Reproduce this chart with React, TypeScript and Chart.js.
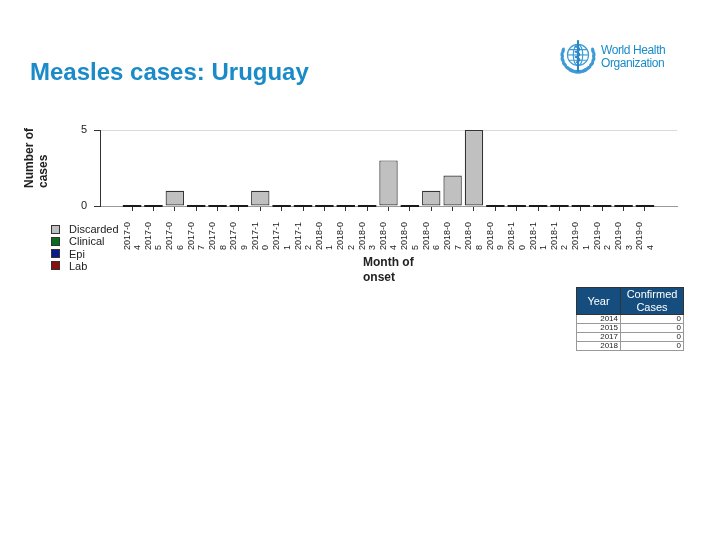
import React, { useEffect, useRef } from 'react';
import { Chart, registerables } from 'chart.js';

Chart.register(...registerables);

// ---- data ----
const months = [
  '2017-04', '2017-05', '2017-06', '2017-07', '2017-08', '2017-09', '2017-10', '2017-11', '2017-12',
  '2018-01', '2018-02', '2018-03', '2018-04', '2018-05', '2018-06', '2018-07', '2018-08', '2018-09',
  '2018-10', '2018-11', '2018-12', '2019-01', '2019-02', '2019-03', '2019-04',
];
const discarded = [0, 0, 1, 0, 0, 0, 1, 0, 0, 0, 0, 0, 3, 0, 1, 2, 5, 0, 0, 0, 0, 0, 0, 0, 0];
const clinical = [0, 0, 0, 0, 0, 0, 0, 0, 0, 0, 0, 0, 0, 0, 0, 0, 0, 0, 0, 0, 0, 0, 0, 0, 0];
const epi = [0, 0, 0, 0, 0, 0, 0, 0, 0, 0, 0, 0, 0, 0, 0, 0, 0, 0, 0, 0, 0, 0, 0, 0, 0];
const lab = [0, 0, 0, 0, 0, 0, 0, 0, 0, 0, 0, 0, 0, 0, 0, 0, 0, 0, 0, 0, 0, 0, 0, 0, 0];
const yTicks = [0, 5];
const seriesNames = ['Discarded', 'Clinical', 'Epi', 'Lab'];
const seriesColors = ['#c0c0c0', '#0b6b1f', '#0a1a8c', '#8a0f0f'];
const xTitleLines = ['Month of', 'onset'];
const yTitleLines = ['Number of', 'cases'];
const tableYears = ['2014', '2015', '2017', '2018'];
const tableConfirmed = [0, 0, 0, 0];

const FONT = '"Liberation Sans", Arial, sans-serif';
const TEXT = '#222';

const pad = (arr: (number | null)[]) => [null, ...arr, null];
const chartLabels = ['', ...months, ''];

const customDraw = {
  id: 'customDraw',
  afterDatasetsDraw(chart: any) {
    const ctx = chart.ctx;
    const ys = chart.scales.y;
    const y0 = ys.getPixelForValue(0);
    const meta = chart.getDatasetMeta(0);
    const ds = chart.data.datasets;
    meta.data.forEach((el: any, i: number) => {
      if (ds[0].data[i] == null) return;
      const total = ds.reduce((s: number, d: any) => s + ((d.data[i] as number) || 0), 0);
      if (total === 0) {
        ctx.save();
        ctx.fillStyle = '#1a1a1a';
        ctx.fillRect(el.x - el.width / 2, y0 - 1, el.width, 2);
        ctx.restore();
      }
    });
  },
  afterDraw(chart: any) {
    const ctx = chart.ctx;
    const xs = chart.scales.x;
    ctx.save();
    ctx.fillStyle = TEXT;
    ctx.textAlign = 'left';
    ctx.textBaseline = 'middle';
    ctx.font = `9px ${FONT}`;
    months.forEach((m, i) => {
      const x = xs.getPixelForValue(i + 1);
      const parts = [m.slice(0, 6), m.slice(6)];
      parts.forEach((p, j) => {
        ctx.save();
        ctx.translate(x + (j === 0 ? -5 : 5.5), 250);
        ctx.rotate(-Math.PI / 2);
        ctx.fillText(p, 0, 0);
        ctx.restore();
      });
    });
    // axis titles
    ctx.font = `bold 12px ${FONT}`;
    xTitleLines.forEach((t, j) => {
      ctx.fillText(t, 363, 263 + j * 15);
    });
    yTitleLines.forEach((t, j) => {
      ctx.save();
      ctx.translate(30 + j * 14, 188);
      ctx.rotate(-Math.PI / 2);
      ctx.fillText(t, 0, 0);
      ctx.restore();
    });
    ctx.restore();
  },
};

function WhoLogo() {
  const leaves = [];
  for (let k = 0; k < 9; k++) {
    const a = (200 - k * 17) * Math.PI / 180;
    const r = 15;
    for (const side of [-1, 1]) {
      const cx = 18 + side * Math.cos(a) * r * -1;
      const cy = 18 - Math.sin(a) * r * -1;
      leaves.push(
        <ellipse key={`${k}-${side}`} cx={cx} cy={cy} rx={1.6} ry={3}
          transform={`rotate(${side * (k * 17 - 10)} ${cx} ${cy})`} fill="#3d9ad6" />
      );
    }
  }
  return (
    <svg width="38" height="38" viewBox="0 0 36 36" style={{ position: 'absolute', left: 559, top: 37 }}>
      {leaves}
      <g fill="none" stroke="#3d9ad6" strokeWidth="1.1">
        <circle cx="18" cy="17" r="10" />
        <ellipse cx="18" cy="17" rx="4.5" ry="10" />
        <line x1="8" y1="17" x2="28" y2="17" />
        <path d="M9.5 12 H26.5 M9.5 22 H26.5" />
      </g>
      <line x1="18" y1="3" x2="18" y2="33" stroke="#2a86c8" strokeWidth="2" />
      <path d="M15 9 C21 10 21 13 15 14 C21 15 21 18 15 19 C21 20 21 23 16 24" fill="none" stroke="#2a86c8" strokeWidth="1.4" />
    </svg>
  );
}

export default function App() {
  const ref = useRef<HTMLCanvasElement | null>(null);

  useEffect(() => {
    if (!ref.current) return;
    const datasets = [discarded, clinical, epi, lab].map((d, i) => ({
      label: seriesNames[i],
      data: pad(d),
      backgroundColor: seriesColors[i],
      borderColor: '#333',
      borderWidth: 1.2,
      borderSkipped: false as const,
      categoryPercentage: 1,
      barPercentage: 0.86,
    }));
    const chart = new Chart(ref.current, {
      type: 'bar',
      data: { labels: chartLabels, datasets },
      options: {
        animation: false,
        responsive: false,
        maintainAspectRatio: false,
        layout: { padding: { left: 0, top: 130, right: 43, bottom: 324 } },
        plugins: { legend: { display: false }, tooltip: { enabled: false }, title: { display: false } },
        scales: {
          x: {
            stacked: true,
            offset: true,
            grid: {
              offset: false,
              drawOnChartArea: false,
              drawTicks: true,
              tickLength: 5,
              tickColor: (c: any) => (c.index === 0 || c.index === chartLabels.length - 1 ? 'rgba(0,0,0,0)' : '#333'),
            },
            border: { display: true, color: '#9a9a9a', width: 1 },
            ticks: { display: false },
            afterFit: (s: any) => { s.height = 10; s.paddingLeft = 0; s.paddingRight = 0; },
          },
          y: {
            stacked: true,
            min: 0,
            max: 5,
            afterBuildTicks: (s: any) => { s.ticks = yTicks.map((v) => ({ value: v })); },
            ticks: { font: { family: FONT, size: 11 }, color: TEXT, padding: 7 },
            grid: {
              color: (c: any) => (c.tick && c.tick.value === 0 ? 'rgba(0,0,0,0)' : '#d9d9d9'),
              tickColor: '#333',
              tickLength: 6,
            },
            border: { color: '#333', width: 1 },
            afterFit: (s: any) => { s.width = 100; s.paddingTop = 0; s.paddingBottom = 0; },
          },
        },
      },
      plugins: [customDraw],
    });
    return () => chart.destroy();
  }, []);

  const cellBorder = '1px solid #999';

  return (
    <div style={{ position: 'fixed', left: 0, top: 0, width: 720, height: 540, background: '#fff', fontFamily: FONT }}>
      <canvas ref={ref} width={720} height={540} style={{ position: 'absolute', left: 0, top: 0, width: 720, height: 540 }} />
      <div style={{ position: 'absolute', left: 30, top: 60, fontSize: 24, lineHeight: '24px', fontWeight: 'bold', color: '#1a8bc8', whiteSpace: 'nowrap' }}>
        Measles cases: Uruguay
      </div>
      <WhoLogo />
      <div style={{ position: 'absolute', left: 601, top: 44, fontSize: 12, lineHeight: '13px', color: '#1a8bc8', letterSpacing: '-0.4px', whiteSpace: 'nowrap' }}>
        World Health<br />Organization
      </div>
      {seriesNames.map((n, i) => (
        <div key={n} style={{ position: 'absolute', left: 51, top: 223 + i * 12.3, height: 12, display: 'flex', alignItems: 'center' }}>
          <div style={{ width: 7, height: 7, background: seriesColors[i], border: '1px solid #333' }} />
          <div style={{ marginLeft: 9, fontSize: 11, lineHeight: '12px', color: TEXT }}>{n}</div>
        </div>
      ))}
      <table style={{ position: 'absolute', left: 576, top: 287, width: 108, borderCollapse: 'collapse', fontFamily: FONT }}>
        <thead>
          <tr>
            <th style={{ width: 43, height: 24, padding: 0, background: '#154e7e', color: '#fff', fontSize: 11, fontWeight: 'normal', border: '1px solid #333' }}>Year</th>
            <th style={{ height: 24, padding: 0, background: '#154e7e', color: '#fff', fontSize: 11, lineHeight: '13px', fontWeight: 'normal', border: '1px solid #333' }}>Confirmed<br />Cases</th>
          </tr>
        </thead>
        <tbody>
          {tableYears.map((y, i) => (
            <tr key={y}>
              <td style={{ height: 8, padding: '0 2px', fontSize: 8, lineHeight: '8px', textAlign: 'right', border: cellBorder, color: TEXT }}>{y}</td>
              <td style={{ height: 8, padding: '0 2px', fontSize: 8, lineHeight: '8px', textAlign: 'right', border: cellBorder, color: TEXT }}>{tableConfirmed[i]}</td>
            </tr>
          ))}
        </tbody>
      </table>
    </div>
  );
}
